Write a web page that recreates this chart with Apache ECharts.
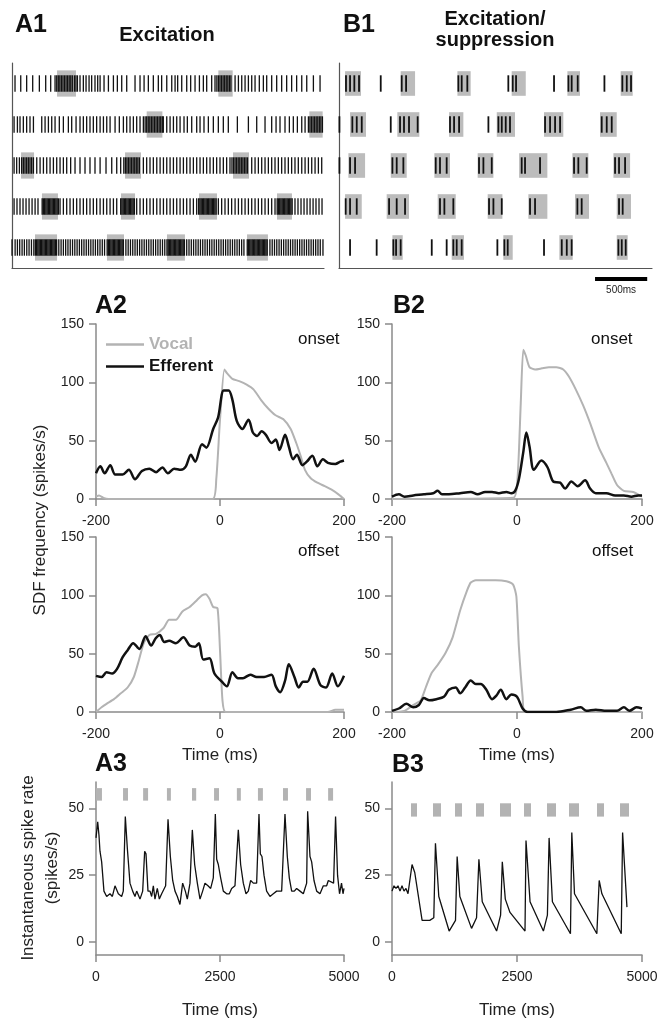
<!DOCTYPE html>
<html>
<head>
<meta charset="utf-8">
<script src="https://cdn.jsdelivr.net/npm/echarts@6/dist/echarts.min.js"></script>
<style>
html, body { margin: 0; padding: 0; background: #fff; }
#chart { width: 669px; height: 1020px; }
</style>
</head>
<body>
<div id="chart"></div>
<script>
// ---- raster data (spike times in ms, row 0 = top) ----
var a1Row1 = [29,84,141,199,263,324,372,414,430,445,460,475,490,505,520,535,550,565,580,600,615,629,654,686,712,741,766,798,824,847,885,927,975,1013,1055,1103,1183,1231,1270,1311,1359,1407,1439,1488,1536,1568,1593,1632,1680,1718,1760,1802,1840,1872,1920,1952,1970,1985,2000,2015,2030,2045,2060,2075,2090,2105,2145,2177,2209,2241,2273,2305,2337,2378,2417,2449,2497,2545,2593,2641,2689,2737,2786,2834,2898,2962]
var a1Row2 = [20,52,77,109,141,173,206,286,318,350,382,414,455,494,542,574,616,654,686,718,750,782,814,847,879,911,943,991,1032,1071,1103,1135,1167,1199,1231,1263,1280,1295,1310,1325,1340,1355,1370,1385,1400,1415,1430,1445,1455,1488,1520,1552,1584,1616,1654,1686,1728,1776,1808,1846,1888,1936,1984,2032,2080,2167,2273,2353,2433,2497,2539,2577,2625,2667,2705,2744,2786,2818,2850,2865,2880,2895,2910,2925,2940,2955,2970,2985]
var a1Row3 = [20,45,71,93,109,125,141,157,173,189,206,238,270,302,334,366,398,430,462,494,526,564,606,654,702,750,798,847,904,959,1007,1045,1075,1090,1105,1120,1135,1150,1165,1180,1195,1210,1225,1263,1295,1327,1359,1392,1424,1456,1488,1520,1552,1584,1616,1648,1680,1712,1744,1776,1808,1840,1872,1904,1936,1968,2000,2032,2064,2096,2115,2130,2145,2160,2175,2190,2205,2220,2235,2250,2265,2305,2337,2369,2401,2433,2465,2497,2529,2561,2593,2625,2657,2689,2721,2753,2786,2818,2850,2882,2914,2946,2978]
var a1Row4 = [20,48,77,106,135,164,193,222,250,290,302,314,326,338,350,362,374,386,398,410,422,434,446,462,494,526,558,590,622,654,686,718,750,782,814,847,879,911,943,975,1007,1045,1057,1069,1081,1093,1105,1117,1129,1141,1153,1165,1177,1199,1231,1263,1295,1327,1359,1392,1424,1456,1488,1520,1552,1584,1616,1648,1680,1712,1744,1776,1795,1807,1819,1831,1843,1855,1867,1879,1891,1903,1915,1927,1939,1951,1963,1984,2016,2048,2080,2112,2145,2177,2209,2241,2273,2305,2337,2369,2401,2433,2465,2497,2529,2550,2562,2574,2586,2598,2610,2622,2634,2646,2658,2670,2682,2694,2721,2750,2779,2808,2837,2866,2895,2923,2952,2981]
var a1Row5 = [0,30,52,74,97,119,142,164,187,210,225,237,249,261,273,285,297,309,321,333,345,357,369,381,393,405,417,429,450,472,494,516,538,560,582,604,626,648,670,692,714,736,758,780,802,824,846,868,890,915,927,939,951,963,975,987,999,1011,1023,1035,1047,1059,1071,1095,1117,1139,1161,1183,1205,1227,1249,1271,1293,1315,1337,1359,1381,1403,1425,1447,1469,1490,1502,1514,1526,1538,1550,1562,1574,1586,1598,1610,1622,1634,1646,1658,1680,1702,1724,1746,1768,1790,1812,1834,1856,1878,1900,1922,1944,1966,1988,2010,2032,2054,2076,2098,2120,2142,2164,2186,2208,2230,2262,2274,2286,2298,2310,2322,2334,2346,2358,2370,2382,2394,2406,2418,2430,2442,2454,2480,2502,2524,2546,2568,2590,2612,2634,2656,2678,2700,2722,2744,2766,2788,2810,2832,2854,2876,2898,2920,2942,2964,2990]
// [start ms, end ms, row]
var a1Boxes = [[433,615,0],[1984,2122,0],[1295,1446,1],[2859,2987,1],[87,212,2],[1087,1240,2],[2125,2279,2],[288,442,3],[1048,1183,3],[1798,1971,3],[2548,2692,3],[221,433,4],[913,1077,4],[1490,1663,4],[2260,2461,4]]

var b1Row1 = [67,106,147,192,400,601,643,1144,1176,1230,1623,1665,1697,2061,2199,2230,2288,2544,2716,2758,2799]
var b1Row2 = [4,128,170,218,496,585,623,671,754,1064,1103,1151,1432,1528,1560,1598,1639,1975,2023,2071,2119,2518,2566,2614]
var b1Row3 = [4,106,154,512,553,617,927,968,1032,1342,1384,1464,1751,1783,1927,2253,2294,2374,2646,2684,2742]
var b1Row4 = [64,106,170,480,553,633,968,1010,1096,1438,1480,1560,1831,1879,2285,2326,2684,2719]
var b1Row5 = [106,361,521,547,591,889,1032,1096,1128,1176,1518,1585,1617,1965,2135,2183,2230,2678,2710,2748]
var b1Boxes = [[58,211,0],[591,729,0],[1135,1262,0],[1655,1790,0],[2189,2310,0],[2700,2815,0],[106,259,1],[559,770,1],[1055,1192,1],[1512,1687,1],[1965,2150,1],[2502,2662,1],[90,250,2],[496,649,2],[914,1064,2],[1329,1480,2],[1726,1997,2],[2237,2390,2],[2630,2790,2],[58,218,3],[457,671,3],[946,1119,3],[1425,1566,3],[1815,1997,3],[2262,2396,3],[2662,2799,3],[512,611,4],[1080,1198,4],[1575,1665,4],[2112,2240,4],[2662,2767,4]]
var scaleBar = [2454, 2954]

// ---- SDF data [ms, spikes/s] ----
var a2OnVocal = [[-200,2],[-195,3],[-188,1],[-180,0],[-12,0],[-6,17],[0,68],[7,111],[11,108],[20,103],[31,101],[43,98],[54,94],[66,85],[77,78],[89,72],[103,68],[114,60],[123,48],[130,37],[137,25],[146,18],[157,14],[169,11],[180,8],[191,4],[200,0]]
var a2OnEff = [[-200,22],[-193,28],[-186,22],[-177,29],[-169,21],[-157,21],[-147,25],[-137,17],[-126,24],[-114,26],[-103,23],[-93,27],[-84,22],[-74,26],[-63,25],[-55,28],[-47,38],[-40,32],[-29,47],[-22,44],[-11,60],[-3,70],[6,93],[14,93],[20,85],[27,67],[36,60],[46,68],[53,57],[60,54],[67,58],[74,55],[83,48],[90,51],[96,42],[105,55],[111,45],[118,34],[124,38],[133,29],[140,32],[149,37],[157,28],[166,34],[174,31],[186,30],[194,32],[200,33]]
var b2OnVocal = [[-200,0],[-6,1],[1,19],[6,82],[10,128],[14,123],[20,113],[29,111],[40,112],[51,113],[63,113],[74,111],[83,105],[94,94],[106,80],[117,65],[131,44],[143,31],[151,22],[160,12],[171,7],[186,6],[200,2]]
var b2OnEff = [[-200,2],[-189,4],[-180,2],[-166,3],[-149,4],[-134,5],[-127,7],[-120,4],[-109,4],[-91,5],[-74,6],[-63,4],[-51,6],[-40,6],[-29,5],[-17,6],[-9,5],[-3,7],[3,17],[10,40],[15,57],[20,45],[27,25],[39,33],[49,27],[58,15],[69,14],[77,9],[87,15],[97,11],[109,16],[117,9],[126,5],[143,5],[157,3],[171,3],[183,2],[194,3],[200,3]]
var a2OffVocal = [[-200,0],[-191,4],[-183,7],[-171,11],[-160,16],[-149,21],[-139,30],[-131,44],[-123,59],[-114,66],[-103,67],[-91,72],[-82,79],[-71,79],[-61,86],[-49,90],[-37,96],[-29,100],[-23,101],[-17,97],[-11,90],[-4,89],[0,53],[4,10],[9,0],[174,0],[186,2],[200,2]]
var a2OffEff = [[-200,31],[-191,30],[-183,34],[-174,33],[-166,37],[-157,47],[-149,53],[-140,59],[-130,54],[-120,65],[-111,57],[-104,63],[-97,66],[-90,60],[-82,61],[-71,59],[-59,64],[-49,57],[-40,56],[-34,59],[-27,45],[-17,46],[-9,33],[3,26],[11,22],[20,34],[29,29],[37,29],[49,32],[59,30],[71,30],[83,32],[90,22],[97,17],[105,27],[111,41],[120,30],[127,21],[134,26],[141,26],[151,37],[162,23],[171,21],[181,33],[190,22],[200,31]]
var b2OffVocal = [[-200,0],[-180,1],[-166,6],[-154,10],[-146,21],[-137,33],[-126,41],[-114,51],[-103,64],[-91,87],[-80,104],[-74,111],[-66,113],[-51,113],[-34,113],[-17,112],[-6,109],[-1,99],[3,56],[9,13],[13,0],[200,0]]
var b2OffEff = [[-200,1],[-189,3],[-177,7],[-166,4],[-157,6],[-149,12],[-140,10],[-129,11],[-117,13],[-109,19],[-98,21],[-91,16],[-83,21],[-74,27],[-66,24],[-58,24],[-49,19],[-40,11],[-33,14],[-26,19],[-17,11],[-9,15],[0,13],[9,3],[17,0],[63,0],[86,2],[102,4],[111,1],[126,2],[143,1],[160,1],[171,4],[180,1],[191,4],[200,3]]

// ---- instantaneous rate [ms, spikes/s] and vocal bouts [start, end] ----
var a3Rate = [[0,39],[34,45],[60,40],[80,34],[114,30],[160,19],[215,17],[282,18],[330,17],[383,21],[450,18],[517,17],[550,19],[591,47],[632,35],[685,22],[739,19],[786,17],[820,19],[887,16],[941,19],[981,34],[1008,33],[1048,19],[1089,19],[1122,17],[1156,21],[1189,16],[1236,20],[1277,16],[1324,18],[1404,21],[1452,46],[1499,32],[1546,23],[1593,19],[1640,17],[1693,14],[1747,22],[1801,19],[1841,16],[1895,22],[1942,42],[1989,29],[2043,22],[2097,16],[2150,19],[2197,22],[2258,21],[2312,20],[2365,24],[2406,48],[2433,31],[2466,29],[2513,24],[2567,19],[2634,18],[2688,18],[2735,20],[2802,21],[2869,42],[2916,29],[2970,22],[3024,18],[3071,19],[3118,23],[3172,22],[3239,22],[3286,48],[3313,33],[3346,32],[3387,25],[3440,19],[3508,17],[3575,18],[3642,19],[3743,19],[3810,48],[3857,32],[3897,24],[3945,19],[3998,19],[4045,20],[4113,19],[4180,18],[4247,22],[4267,49],[4314,32],[4348,30],[4395,23],[4449,19],[4516,18],[4583,21],[4650,21],[4684,23],[4790,22],[4830,47],[4870,25],[4910,18],[4950,22],[4980,18],[5000,20]]
var a3Stim = [[0,120],[545,645],[950,1050],[1430,1510],[1935,2020],[2380,2480],[2840,2920],[3265,3365],[3770,3870],[4235,4335],[4680,4780]]
var b3Rate = [[0,19],[40,21],[80,20],[120,21],[160,19],[200,21],[240,19],[280,20],[320,18],[354,18],[401,29],[455,26],[602,8],[755,8],[836,9],[869,37],[936,17],[1143,4],[1270,8],[1303,32],[1357,17],[1591,5],[1691,9],[1738,31],[1805,15],[2092,4],[2172,10],[2206,30],[2266,16],[2360,11],[2660,4],[2680,38],[2761,15],[3028,4],[3108,10],[3142,39],[3208,15],[3569,3],[3596,41],[3650,18],[4097,3],[4144,23],[4198,18],[4585,3],[4612,41],[4699,13]]
var b3Stim = [[380,500],[820,980],[1260,1400],[1680,1840],[2160,2380],[2640,2780],[3100,3280],[3540,3740],[4100,4240],[4560,4740]]

var FONT = '"Liberation Sans", Arial, sans-serif'
var GRAY_AXIS = '#8a8a8a'
var VOCAL = '#b3b3b3'
var BOX = '#bcbcbc'

var chart = echarts.init(document.getElementById('chart'))

function rows(list) {
  var out = []
  list.forEach(function (r, i) {
    r.forEach(function (t) { out.push([t, i]) })
  })
  return out
}
function plain(v) { return String(v) }

function rasterX(gi) {
  return {
    type: 'value', gridIndex: gi, min: 0, max: 3000,
    axisLine: { show: true, onZero: false, lineStyle: { color: '#555', width: 1.2 } },
    axisTick: { show: false }, axisLabel: { show: false }, splitLine: { show: false }
  }
}
function rasterY(gi) {
  return {
    type: 'value', gridIndex: gi, min: 0, max: 5, inverse: true,
    axisLine: { show: true, onZero: false, lineStyle: { color: '#555', width: 1.2 } },
    axisTick: { show: false }, axisLabel: { show: false }, splitLine: { show: false }
  }
}
function axisCommon(o) {
  o.axisLine = { show: true, onZero: false, lineStyle: { color: GRAY_AXIS, width: 1.5 } }
  o.axisTick = o.axisTick || { show: true, length: 7, lineStyle: { color: GRAY_AXIS, width: 1.5 } }
  o.splitLine = { show: false }
  o.nameTextStyle = { fontFamily: FONT, fontSize: 17, color: '#222' }
  return o
}
function sdfX(gi, withName) {
  return axisCommon({
    type: 'value', gridIndex: gi, min: -200, max: 200, interval: 200,
    axisLabel: { fontFamily: FONT, fontSize: 14, color: '#222', margin: 15, formatter: plain },
    name: withName ? 'Time (ms)' : '', nameLocation: 'middle', nameGap: 35
  })
}
function sdfY(gi) {
  return axisCommon({
    type: 'value', gridIndex: gi, min: 0, max: 150, interval: 50,
    axisLabel: { fontFamily: FONT, fontSize: 14, color: '#222', margin: 12, formatter: plain }
  })
}
function rateX(gi) {
  return axisCommon({
    type: 'value', gridIndex: gi, min: 0, max: 5000, interval: 2500,
    axisLabel: { fontFamily: FONT, fontSize: 14, color: '#222', margin: 15, formatter: plain },
    name: 'Time (ms)', nameLocation: 'middle', nameGap: 47
  })
}
function rateY(gi) {
  return axisCommon({
    type: 'value', gridIndex: gi, min: -5, max: 60,
    axisTick: { show: true, length: 7, customValues: [0, 25, 50], lineStyle: { color: GRAY_AXIS, width: 1.5 } },
    axisLabel: { fontFamily: FONT, fontSize: 14, color: '#222', margin: 12, customValues: [0, 25, 50], formatter: plain }
  })
}

function spikeSeries(gi, data, width) {
  return {
    type: 'custom', xAxisIndex: gi, yAxisIndex: gi, z: 3, data: data,
    encode: { x: 0, y: 1 },
    renderItem: function (params, api) {
      var p0 = api.coord([api.value(0), api.value(1) + 0.3])
      var p1 = api.coord([api.value(0), api.value(1) + 0.7])
      return { type: 'line', shape: { x1: p0[0], y1: p0[1], x2: p1[0], y2: p1[1] }, style: { stroke: '#111', lineWidth: width } }
    }
  }
}
function boxSeries(gi, data, half) {
  return {
    type: 'custom', xAxisIndex: gi, yAxisIndex: gi, z: 2, data: data,
    encode: { x: [0, 1], y: 2 },
    renderItem: function (params, api) {
      var p0 = api.coord([api.value(0), api.value(2) + 0.5 - half])
      var p1 = api.coord([api.value(1), api.value(2) + 0.5 + half])
      return { type: 'rect', shape: { x: p0[0], y: p0[1], width: p1[0] - p0[0], height: p1[1] - p0[1] }, style: { fill: BOX } }
    }
  }
}
function stimSeries(gi, data, lo, hi) {
  return {
    type: 'custom', xAxisIndex: gi, yAxisIndex: gi, z: 2, data: data,
    encode: { x: [0, 1] },
    renderItem: function (params, api) {
      var p0 = api.coord([api.value(0), hi])
      var p1 = api.coord([api.value(1), lo])
      return { type: 'rect', shape: { x: p0[0], y: p0[1], width: p1[0] - p0[0], height: p1[1] - p0[1] }, style: { fill: VOCAL } }
    }
  }
}
function sdfLine(gi, name, data, color, width, smooth) {
  return {
    type: 'line', name: name, xAxisIndex: gi, yAxisIndex: gi, data: data,
    showSymbol: false, symbol: 'none', smooth: smooth, z: name === 'Efferent' ? 4 : 3,
    lineStyle: { color: color, width: width }, itemStyle: { color: color }
  }
}
function rateLine(gi, data) {
  return {
    type: 'line', xAxisIndex: gi, yAxisIndex: gi, data: data, showSymbol: false, symbol: 'none',
    lineStyle: { color: '#111', width: 1.3 }, z: 4
  }
}

function label(text, left, top, size, bold, extra) {
  var t = {
    text: text, left: left, top: top, padding: 0,
    textStyle: { fontFamily: FONT, fontSize: size, fontWeight: bold ? 'bold' : 'normal', color: '#111' }
  }
  if (extra) for (var k in extra) t[k] = extra[k]
  return t
}

chart.setOption({
  animation: false,
  backgroundColor: '#fff',
  title: [
    label('A1', 15, 13, 25, true),
    label('Excitation', 167, 25, 20, true, { textAlign: 'center' }),
    label('B1', 343, 13, 25, true),
    { text: 'Excitation/\nsuppression', left: 495, top: 9, padding: 0, textAlign: 'center',
      textStyle: { fontFamily: FONT, fontSize: 20, fontWeight: 'bold', color: '#111', lineHeight: 21 } },
    label('A2', 95, 294, 25, true),
    label('B2', 393, 294, 25, true),
    label('A3', 95, 752, 25, true),
    label('B3', 392, 753, 25, true),
    label('onset', 298, 331, 17, false),
    label('onset', 591, 331, 17, false),
    label('offset', 298, 543, 17, false),
    label('offset', 592, 543, 17, false)
  ],
  legend: {
    left: 101, top: 331, orient: 'vertical', icon: 'rect', itemWidth: 38, itemHeight: 2.5, itemGap: 5,
    selectedMode: false,
    textStyle: { fontFamily: FONT, fontSize: 17, fontWeight: 'bold', color: '#111' },
    data: [{ name: 'Vocal', textStyle: { color: VOCAL } }, { name: 'Efferent' }]
  },
  graphic: [
    { type: 'text', x: 40, y: 520, rotation: Math.PI / 2,
      style: { text: 'SDF frequency (spikes/s)', font: '17px ' + FONT, fill: '#222', align: 'center', verticalAlign: 'middle' } },
    { type: 'text', x: 28, y: 868, rotation: Math.PI / 2,
      style: { text: 'Instantaneous spike rate', font: '17px ' + FONT, fill: '#222', align: 'center', verticalAlign: 'middle' } },
    { type: 'text', x: 52, y: 868, rotation: Math.PI / 2,
      style: { text: '(spikes/s)', font: '17px ' + FONT, fill: '#222', align: 'center', verticalAlign: 'middle' } }
  ],
  grid: [
    { left: 12, top: 63, width: 312, height: 205 },
    { left: 339, top: 63, width: 313, height: 205 },
    { left: 96, top: 324, width: 248, height: 175 },
    { left: 392, top: 324, width: 250, height: 175 },
    { left: 96, top: 537, width: 248, height: 175 },
    { left: 392, top: 537, width: 250, height: 175 },
    { left: 96, top: 782, width: 248, height: 173 },
    { left: 392, top: 782, width: 250, height: 173 }
  ],
  xAxis: [rasterX(0), rasterX(1), sdfX(2, false), sdfX(3, false), sdfX(4, true), sdfX(5, true), rateX(6), rateX(7)],
  yAxis: [rasterY(0), rasterY(1), sdfY(2), sdfY(3), sdfY(4), sdfY(5), rateY(6), rateY(7)],
  series: [
    boxSeries(0, a1Boxes, 0.32),
    spikeSeries(0, rows([a1Row1, a1Row2, a1Row3, a1Row4, a1Row5]), 1.3),
    boxSeries(1, b1Boxes, 0.3),
    spikeSeries(1, rows([b1Row1, b1Row2, b1Row3, b1Row4, b1Row5]), 1.8),
    {
      type: 'custom', xAxisIndex: 1, yAxisIndex: 1, clip: false, data: [[scaleBar[0], scaleBar[1], 5.27]],
      encode: { x: [0, 1], y: 2 },
      renderItem: function (params, api) {
        var p0 = api.coord([api.value(0), api.value(2)])
        var p1 = api.coord([api.value(1), api.value(2)])
        return { type: 'group', children: [
          { type: 'rect', shape: { x: p0[0], y: p0[1] - 2, width: p1[0] - p0[0], height: 4 }, style: { fill: '#000' } },
          { type: 'text', x: (p0[0] + p1[0]) / 2, y: p0[1] + 11, style: { text: '500ms', font: '10px ' + FONT, fill: '#222', align: 'center', verticalAlign: 'middle' } }
        ] }
      }
    },
    sdfLine(2, 'Vocal', a2OnVocal, VOCAL, 2, 0.2),
    sdfLine(2, 'Efferent', a2OnEff, '#111', 2.5, 0.3),
    sdfLine(3, 'Vocal', b2OnVocal, VOCAL, 2, 0.2),
    sdfLine(3, 'Efferent', b2OnEff, '#111', 2.5, 0.3),
    sdfLine(4, 'Vocal', a2OffVocal, VOCAL, 2, 0.2),
    sdfLine(4, 'Efferent', a2OffEff, '#111', 2.5, 0.3),
    sdfLine(5, 'Vocal', b2OffVocal, VOCAL, 2, 0.2),
    sdfLine(5, 'Efferent', b2OffEff, '#111', 2.5, 0.3),
    stimSeries(6, a3Stim, 53, 57.7),
    rateLine(6, a3Rate),
    stimSeries(7, b3Stim, 47, 52),
    rateLine(7, b3Rate)
  ]
})
</script>
</body>
</html>
